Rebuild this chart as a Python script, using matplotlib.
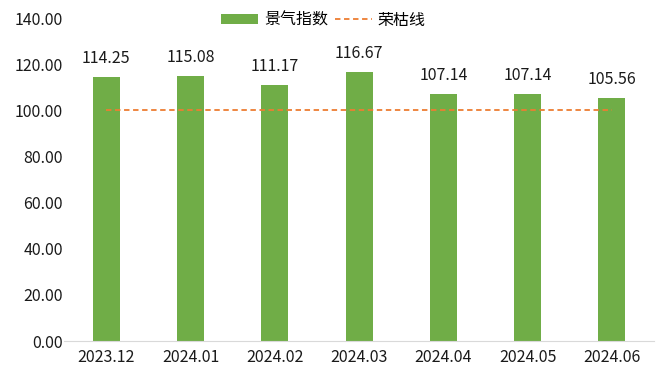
import matplotlib.pyplot as plt
import numpy as np

plt.rcParams['font.family'] = ['Noto Sans CJK SC', 'DejaVu Sans']

months = ['2023.12', '2024.01', '2024.02', '2024.03', '2024.04', '2024.05', '2024.06']
index_vals = [114.25, 115.08, 111.17, 116.67, 107.14, 107.14, 105.56]
boom_line = [100, 100, 100, 100, 100, 100, 100]

x = np.arange(len(months))

fig = plt.figure(figsize=(6.6, 3.76), dpi=100)
ax = fig.add_axes([0.097, 0.093, 0.894, 0.859])

bars = ax.bar(x, index_vals, 0.32, color='#70AD47', label='景气指数', zorder=2)
line, = ax.plot(x, boom_line, color='#ED7D31', linestyle=(0, (3, 2)), linewidth=1.3,
                label='荣枯线', zorder=3)

for xi, v in zip(x, index_vals):
    ax.text(xi, v + 8, f'{v:.2f}', ha='center', va='center', fontsize=11.5, color='#1a1a1a')

ax.set_xlim(-0.5, len(months) - 0.5)
ax.set_ylim(0, 140)
ax.set_yticks(np.arange(0, 141, 20))
ax.set_yticklabels([f'{t:.2f}' for t in np.arange(0, 141, 20)])
ax.set_xticks(x)
ax.set_xticklabels(months)
ax.tick_params(length=0, labelsize=11.5, colors='#1a1a1a')
ax.tick_params(axis='y', pad=1)
ax.tick_params(axis='x', pad=6)

for s in ['top', 'right', 'left']:
    ax.spines[s].set_visible(False)
ax.spines['bottom'].set_color('#D9D9D9')

ax.legend([bars, line], ['景气指数', '荣枯线'], loc='center', bbox_to_anchor=(0.44, 0.994),
          ncol=2, frameon=False, fontsize=11.5, handlelength=2.3, handleheight=0.6,
          columnspacing=0.4, handletextpad=0.4)

plt.savefig('out.png', dpi=100)
